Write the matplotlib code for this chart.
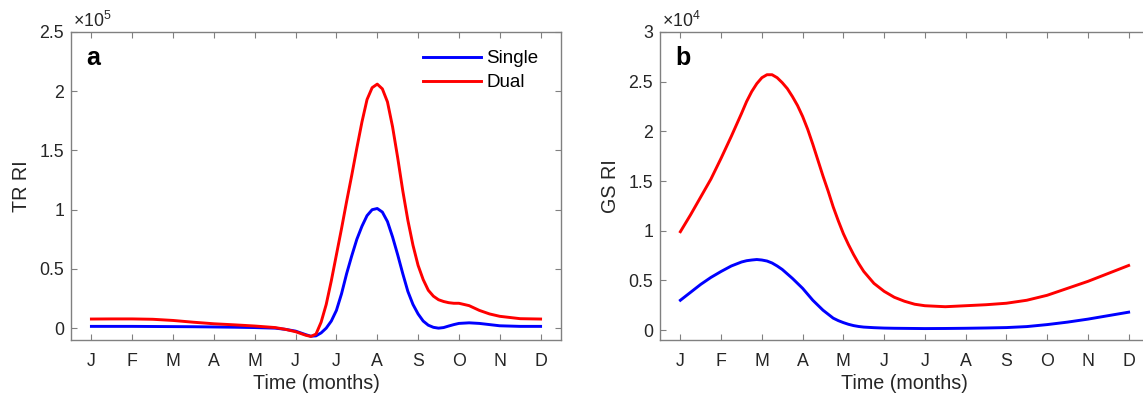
import matplotlib
matplotlib.use("Agg")
import matplotlib.pyplot as plt

plt.rcParams['font.family'] = ['Liberation Sans', 'DejaVu Sans']
plt.rcParams['mathtext.fontset'] = 'custom'
plt.rcParams['mathtext.rm'] = 'Liberation Sans'

months = ['J', 'F', 'M', 'A', 'M', 'J', 'J', 'A', 'S', 'O', 'N', 'D']

# panel a: TR RI (x 10^5)
tr_t = [1.0, 1.5, 2.0, 2.5, 3.0, 3.5, 4.0, 4.5, 5.0, 5.5, 5.75, 6.0, 6.25,
        6.375, 6.5, 6.625, 6.75, 6.875, 7.0, 7.125, 7.25, 7.375, 7.5, 7.625,
        7.75, 7.875, 8.0, 8.125, 8.25, 8.375, 8.5, 8.625, 8.75, 8.875, 9.0,
        9.125, 9.25, 9.375, 9.5, 9.625, 9.75, 9.875, 10.0, 10.25, 10.5,
        10.75, 11.0, 11.5, 12.0]
tr_single = [0.015, 0.015, 0.015, 0.014, 0.013, 0.012, 0.010, 0.008, 0.005,
             0.0, -0.01, -0.025, -0.055, -0.068, -0.065, -0.04, 0.0, 0.06,
             0.15, 0.29, 0.46, 0.61, 0.75, 0.86, 0.95, 1.0, 1.01, 0.98, 0.90,
             0.77, 0.62, 0.46, 0.31, 0.20, 0.12, 0.06, 0.025, 0.007, 0.0,
             0.005, 0.018, 0.03, 0.04, 0.045, 0.04, 0.03, 0.02, 0.015, 0.015]
tr_dual = [0.077, 0.078, 0.078, 0.075, 0.065, 0.05, 0.037, 0.028, 0.018,
           0.005, -0.01, -0.03, -0.06, -0.07, -0.05, 0.05, 0.20, 0.40, 0.62,
           0.84, 1.07, 1.29, 1.52, 1.74, 1.93, 2.03, 2.06, 2.02, 1.91, 1.70,
           1.44, 1.16, 0.91, 0.70, 0.53, 0.41, 0.32, 0.27, 0.24, 0.225, 0.215,
           0.21, 0.21, 0.19, 0.15, 0.12, 0.10, 0.08, 0.077]

# panel b: GS RI (x 10^4)
gs_t = [1.0, 1.25, 1.5, 1.75, 2.0, 2.25, 2.5, 2.625, 2.75, 2.875, 3.0, 3.125,
        3.25, 3.375, 3.5, 3.625, 3.75, 3.875, 4.0, 4.125, 4.25, 4.375, 4.5,
        4.625, 4.75, 4.875, 5.0, 5.125, 5.25, 5.375, 5.5, 5.75, 6.0, 6.25,
        6.5, 6.75, 7.0, 7.5, 8.0, 8.5, 9.0, 9.5, 10.0, 10.5, 11.0, 11.5, 12.0]
gs_single = [0.30, 0.38, 0.46, 0.53, 0.59, 0.645, 0.685, 0.698, 0.705, 0.71,
             0.705, 0.695, 0.675, 0.645, 0.61, 0.565, 0.52, 0.47, 0.42, 0.36,
             0.30, 0.25, 0.20, 0.16, 0.12, 0.095, 0.075, 0.058, 0.045, 0.036,
             0.03, 0.024, 0.02, 0.018, 0.017, 0.016, 0.015, 0.016, 0.018,
             0.021, 0.025, 0.035, 0.055, 0.08, 0.11, 0.145, 0.18]
gs_dual = [0.99, 1.16, 1.34, 1.52, 1.73, 1.95, 2.18, 2.30, 2.40, 2.48, 2.54,
           2.57, 2.57, 2.54, 2.49, 2.43, 2.35, 2.26, 2.15, 2.02, 1.87, 1.71,
           1.55, 1.40, 1.24, 1.10, 0.97, 0.86, 0.76, 0.67, 0.59, 0.47, 0.39,
           0.33, 0.29, 0.26, 0.245, 0.235, 0.245, 0.255, 0.27, 0.30, 0.35,
           0.42, 0.49, 0.57, 0.65]

text_col = '#262626'
axis_col = '#808080'

fig = plt.figure(figsize=(11.43, 4.0), dpi=100)
ax1 = fig.add_axes([71 / 1143, 60 / 400, 490 / 1143, 308 / 400])
ax2 = fig.add_axes([660 / 1143, 60 / 400, 489 / 1143, 308 / 400])


def style(ax, ylim, yticks, ylabel, letter, power):
    ax.set_xlim(0.5, 12.5)
    ax.set_ylim(*ylim)
    ax.set_xticks(range(1, 13))
    ax.set_xticklabels(months)
    ax.set_yticks(yticks)
    ax.set_yticklabels(['%g' % v for v in yticks])
    for s in ax.spines.values():
        s.set_color(axis_col)
        s.set_linewidth(1.0)
    ax.tick_params(axis='both', direction='in', length=4, width=0.8,
                   color=axis_col, labelcolor=text_col, labelsize=12.8,
                   top=True, right=True)
    ax.tick_params(axis='x', pad=9)
    ax.tick_params(axis='y', pad=5)
    ax.set_xlabel('Time (months)', fontsize=14.2, color=text_col, labelpad=3)
    ax.set_ylabel(ylabel, fontsize=14.2, color=text_col, labelpad=6)
    ax.text(0.031, 0.915, letter, transform=ax.transAxes, fontsize=18,
            fontweight='bold', va='center', ha='left', color='black')
    ax.text(0.004, 1.016, r'$\mathregular{\times10^{%d}}$' % power,
            transform=ax.transAxes, fontsize=12.8, color=text_col,
            va='baseline', ha='left')


ax1.plot(tr_t, tr_single, color='#0000ff', lw=2.1, label='Single',
         solid_joinstyle='round')
ax1.plot(tr_t, tr_dual, color='#ff0000', lw=2.1, label='Dual',
         solid_joinstyle='round')
style(ax1, (-0.1, 2.5), [0, 0.5, 1, 1.5, 2, 2.5], 'TR RI', 'a', 5)
ax1.legend(loc='upper left', bbox_to_anchor=(0.718, 0.9416), frameon=False,
           fontsize=13.5, handlelength=3.1, handletextpad=0.3,
           borderpad=0, borderaxespad=0, labelspacing=0.38)

ax2.plot(gs_t, gs_single, color='#0000ff', lw=2.1, solid_joinstyle='round')
ax2.plot(gs_t, gs_dual, color='#ff0000', lw=2.1, solid_joinstyle='round')
style(ax2, (-0.1, 3.0), [0, 0.5, 1, 1.5, 2, 2.5, 3], 'GS RI', 'b', 4)

fig.savefig('out.png', dpi=100)
